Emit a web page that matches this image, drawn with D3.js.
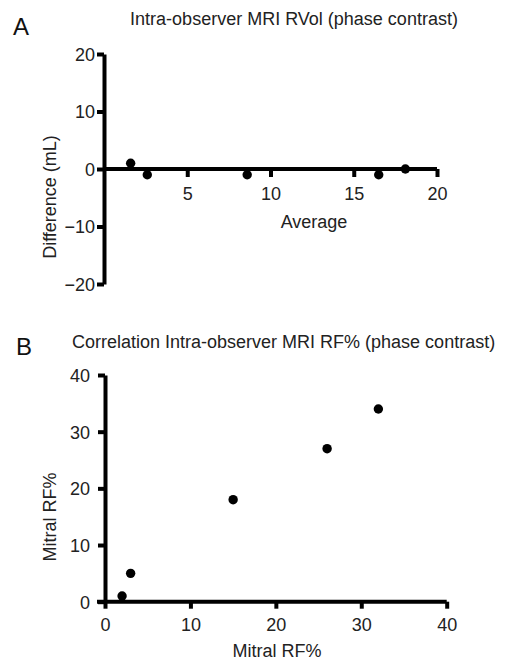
<!DOCTYPE html>
<html>
<head>
<meta charset="utf-8">
<script src="https://cdn.jsdelivr.net/npm/d3@7"></script>
<style>
  body { margin: 0; background: #fff; }
  svg { font-family: "Liberation Sans", Arial, sans-serif; }
</style>
</head>
<body>
<div id="chart"></div>
<script>
// Panel A data (Bland-Altman style)
var avgA = [1.6, 2.6, 8.6, 16.5, 18.1];
var diffA = [1, -1, -1, -1, 0];
var xTicksA = [5, 10, 15, 20];
var yTicksA = [-20, -10, 0, 10, 20];

// Panel B data (correlation)
var rfX = [2, 3, 15, 26, 32];
var rfY = [1, 5, 18, 27, 34];
var xTicksB = [0, 10, 20, 30, 40];
var yTicksB = [0, 10, 20, 30, 40];

var fs = 18;

var svg = d3.select("#chart")
  .append("svg")
  .attr("width", 512)
  .attr("height", 660);

// thick black axis lines, bigger grey text
function styleAxis(g, textX, textY, dy) {
  g.selectAll("path, line").attr("stroke", "#000").attr("stroke-width", 4);
  g.selectAll("text")
    .attr("font-size", fs).attr("fill", "#222")
    .attr("font-family", "Liberation Sans, Arial, sans-serif");
  if (textX !== null) g.selectAll("text").attr("x", textX);
  if (textY !== null) g.selectAll("text").attr("y", textY);
  g.selectAll("text").attr("dy", dy);
}

// ---------- Panel A ----------
var xA = d3.scaleLinear().domain([0, 20]).range([104, 437]);
var yA = d3.scaleLinear().domain([-20, 20]).range([284, 54]);

svg.append("text")
  .attr("x", 13).attr("y", 35)
  .style("font-size", "24px").attr("fill", "#111")
  .text("A");

svg.append("text")
  .attr("x", 294).attr("y", 25)
  .attr("text-anchor", "middle")
  .style("font-size", fs + "px").attr("fill", "#222")
  .text("Intra-observer MRI RVol (phase contrast)");

svg.append("g")
  .attr("transform", `translate(0, ${yA(0)})`)
  .call(d3.axisBottom(xA).tickValues(xTicksA).tickSize(8).tickSizeOuter(0))
  .call(g => g.select(".domain").attr("d", `M${xA(0)},0H${xA(20)}`))
  .call(g => styleAxis(g, null, 31, 0));

svg.append("g")
  .attr("transform", `translate(${xA(0)}, 0)`)
  .call(d3.axisLeft(yA).tickValues(yTicksA).tickSize(7).tickSizeOuter(0)
    .tickFormat(d => d < 0 ? "\u2212" + Math.abs(d) : d))
  .call(g => styleAxis(g, -9, null, "0.36em"));

svg.append("text")
  .attr("x", 314).attr("y", 228)
  .attr("text-anchor", "middle")
  .style("font-size", fs + "px").attr("fill", "#222")
  .text("Average");

svg.append("text")
  .attr("transform", "translate(56, 197) rotate(-90)")
  .attr("text-anchor", "middle")
  .style("font-size", fs + "px").attr("fill", "#222")
  .text("Difference (mL)");

svg.append("g").selectAll("circle")
  .data(avgA)
  .enter()
  .append("circle")
  .attr("cx", d => xA(d))
  .attr("cy", (d, i) => yA(diffA[i]))
  .attr("r", 4.7)
  .attr("fill", "#000");

// ---------- Panel B ----------
var xB = d3.scaleLinear().domain([0, 40]).range([105, 446.7]);
var yB = d3.scaleLinear().domain([0, 40]).range([601.7, 375]);

svg.append("text")
  .attr("x", 16).attr("y", 355)
  .style("font-size", "24px").attr("fill", "#111")
  .text("B");

svg.append("text")
  .attr("x", 72).attr("y", 348)
  .style("font-size", fs + "px").attr("fill", "#222")
  .text("Correlation Intra-observer MRI RF% (phase contrast)");

svg.append("g")
  .attr("transform", `translate(0, ${yB(0)})`)
  .call(d3.axisBottom(xB).tickValues(xTicksB).tickSize(7).tickSizeOuter(0))
  .call(g => g.select(".domain").attr("d", `M${xB(0) - 8},0H${xB(40)}`))
  .call(g => styleAxis(g, null, 29, 0));

svg.append("g")
  .attr("transform", `translate(${xB(0)}, 0)`)
  .call(d3.axisLeft(yB).tickValues(yTicksB).tickSize(7).tickSizeOuter(0))
  .call(g => styleAxis(g, -15, null, "0.36em"));

svg.append("text")
  .attr("x", 277).attr("y", 657)
  .attr("text-anchor", "middle")
  .style("font-size", fs + "px").attr("fill", "#222")
  .text("Mitral RF%");

svg.append("text")
  .attr("transform", "translate(56, 517) rotate(-90)")
  .attr("text-anchor", "middle")
  .style("font-size", fs + "px").attr("fill", "#222")
  .text("Mitral RF%");

svg.append("g").selectAll("circle")
  .data(rfX)
  .enter()
  .append("circle")
  .attr("cx", d => xB(d))
  .attr("cy", (d, i) => yB(rfY[i]))
  .attr("r", 4.7)
  .attr("fill", "#000");
</script>
</body>
</html>
